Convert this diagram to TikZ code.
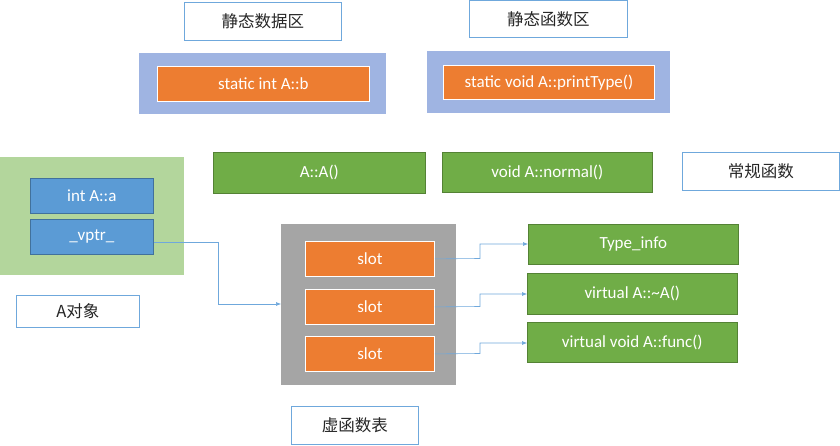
\documentclass[tikz,border=0pt]{standalone}
\usepackage{fontspec}
\setmainfont{Carlito}
\newfontfamily\cjk{Noto Sans CJK SC}
\usetikzlibrary{arrows.meta}
\definecolor{orangeF}{HTML}{ED7D31}
\definecolor{greenF}{HTML}{70AD47}
\definecolor{greenD}{HTML}{548235}
\definecolor{blueF}{HTML}{5B9BD5}
\definecolor{blueD}{HTML}{41719C}
\definecolor{lblue}{HTML}{9FB4E2}
\definecolor{lgreen}{HTML}{B3D69C}
\definecolor{grayF}{HTML}{A5A5A5}
\definecolor{lineC}{HTML}{6FA8DC}
\tikzset{
  pos/.style args={#1,#2,#3,#4}{minimum width={(#3-#1)*1pt}, minimum height={(#4-#2)*1pt}, anchor=north west, at={(#1,#2)}},
  title/.style={draw=lineC, fill=white, line width=0.8pt, inner sep=0pt, font=\cjk\fontsize{16.5}{18}\selectfont, text=black!85},
  orbox/.style={draw=white, fill=orangeF, line width=0.8pt, inner sep=0pt, text=white, font=\fontsize{17}{19}\selectfont},
  grbox/.style={draw=greenD, fill=greenF, line width=0.6pt, inner sep=0pt, text=white, font=\fontsize{17}{19}\selectfont},
  blbox/.style={draw=blueD, fill=blueF, line width=0.6pt, inner sep=0pt, text=white, font=\fontsize{17}{19}\selectfont},
  cont/.style={inner sep=0pt},
  link/.style={draw=lineC, line width=0.6pt, -{Latex[length=5pt,width=4pt]}},
}
\begin{document}
\begin{tikzpicture}[x=1pt,y=-1pt]
\path[use as bounding box, fill=white] (0,0) rectangle (840,446);
% containers
\node[cont, fill=lblue, pos={139,53,386,114}] (sd) {};
\node[cont, fill=lblue, pos={427,51,670,113}] (sf) {};
\node[cont, fill=lgreen, pos={0,157,184,275}] (obj) {};
\node[cont, fill=grayF, pos={281,224,456,385}] (vt) {};
% titles
\node[title, pos={184,2,341,40}] (t1) {静态数据区};
\node[title, pos={469,0,627,37}] (t2) {静态函数区};
\node[title, pos={682,152,839,190}] (t3) {常规函数};
\node[title, pos={16,295,139,327}] (t4) {A对象};
\node[title, pos={291,406,418,444}] (t5) {虚函数表};
% orange static
\node[orbox, pos={157,66,369,101}] (sb) {static int A::b};
\node[orbox, pos={443,65,654,99}] (sp) {static void A::printType()};
% green normal
\node[grbox, pos={213,152,425,193}] (ctor) {A::A()};
\node[grbox, pos={442,152,652,192}] (norm) {void A::normal()};
% blue object
\node[blbox, pos={30,178,153,213}] (ia) {int A::a};
\node[blbox, pos={30,219,153,254}] (vp) {\_vptr\_};
% slots
\node[orbox, pos={305,241,434,276}] (s1) {slot};
\node[orbox, pos={305,289,434,324}] (s2) {slot};
\node[orbox, pos={305,336,434,371}] (s3) {slot};
% virtual targets
\node[grbox, pos={528,224,738,264}] (ti) {Type\_info};
\node[grbox, pos={527,273,737,314}] (vd) {virtual A::\char"7E A()};
\node[grbox, pos={527,322,737,362}] (vf) {virtual void A::func()};
% connectors
\draw[link] (vp.east |- 0,242) -- (218,242) |- (vt.west |- 0,304);
\draw[link] (s1.east) -- (480,258.5) |- (ti.west |- 0,244);
\draw[link] (s2.east) -- (480,306.5) |- (vd.west |- 0,294);
\draw[link] (s3.east) -- (480,353.5) |- (vf.west |- 0,343);
\end{tikzpicture}
\end{document}
